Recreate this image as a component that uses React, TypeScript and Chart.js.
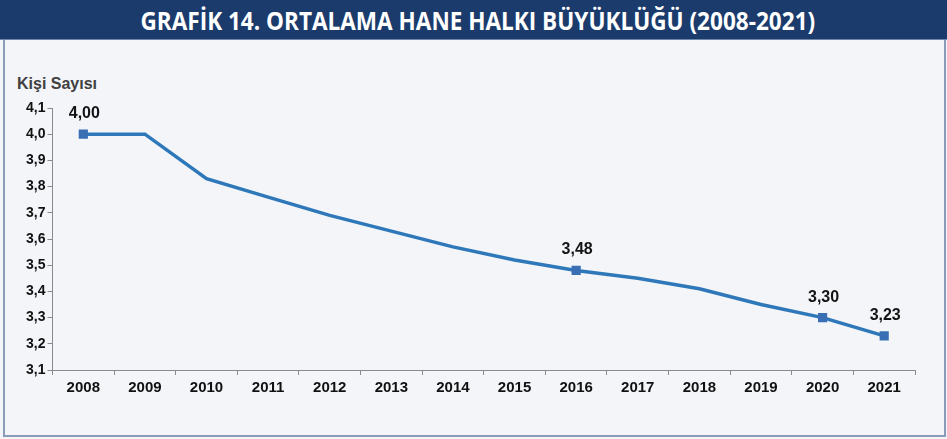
import React, { useEffect, useLayoutEffect, useRef } from "react";
import { Chart, registerables } from "chart.js";

Chart.register(...registerables);

const years = ["2008", "2009", "2010", "2011", "2012", "2013", "2014", "2015", "2016", "2017", "2018", "2019", "2020", "2021"];
const householdSize = [4.0, 4.0, 3.83, 3.76, 3.69, 3.63, 3.57, 3.52, 3.48, 3.45, 3.41, 3.35, 3.3, 3.23];
const labeledYears = ["2008", "2016", "2020", "2021"];
const yMin = 3.1;
const yMax = 4.1;
const yStep = 0.1;
const titleText = "GRAFİK 14. ORTALAMA HANE HALKI BÜYÜKLÜĞÜ (2008-2021)";
const yAxisTitle = "Kişi Sayısı";

const fmt = (v: number, d: number) => v.toFixed(d).replace(".", ",");

const FONT = "'Liberation Sans', Arial, sans-serif";

const valueLabels = {
  id: "valueLabels",
  afterDatasetsDraw(chart: any) {
    const ctx = chart.ctx;
    const meta = chart.getDatasetMeta(0);
    ctx.save();
    ctx.font = `bold 16px ${FONT}`;
    ctx.fillStyle = "#141414";
    ctx.textAlign = "center";
    ctx.textBaseline = "alphabetic";
    meta.data.forEach((pt: any, i: number) => {
      if (!labeledYears.includes(years[i])) return;
      ctx.fillText(fmt(householdSize[i], 2), pt.x + 1, pt.y - 16);
    });
    ctx.restore();
  },
};

export default function App() {
  const canvasRef = useRef<HTMLCanvasElement>(null);
  const titleRef = useRef<HTMLSpanElement>(null);

  useLayoutEffect(() => {
    document.body.style.margin = "0";
    const s = titleRef.current;
    if (s) {
      const w = s.offsetWidth;
      if (w > 0) s.style.transform = `scaleX(${675 / w})`;
    }
  }, []);

  useEffect(() => {
    if (!canvasRef.current) return;
    const chart = new Chart(canvasRef.current, {
      type: "line",
      data: {
        labels: years,
        datasets: [
          {
            data: householdSize,
            borderColor: "rgb(46,120,186)",
            borderWidth: 3.5,
            fill: false,
            tension: 0,
            pointStyle: "rect",
            pointRadius: (c: any) => (labeledYears.includes(years[c.dataIndex]) ? 6.5 : 0),
            pointHoverRadius: 0,
            pointBackgroundColor: "#3a6fb4",
            pointBorderColor: "#3a6fb4",
            pointBorderWidth: 0,
          },
        ],
      },
      options: {
        responsive: false,
        animation: false,
        events: [],
        layout: { padding: { top: 108, right: 32, bottom: 0, left: 0 } },
        plugins: {
          legend: { display: false },
          tooltip: { enabled: false },
          title: { display: false },
        },
        scales: {
          x: {
            type: "category",
            offset: true,
            grid: {
              display: true,
              drawOnChartArea: false,
              offset: true,
              tickLength: 5,
              color: "#8a8a8a",
            },
            border: { display: true, color: "#8a8a8a", width: 1 },
            ticks: {
              color: "#111111",
              font: { family: FONT, size: 15, weight: "bold" },
              padding: 4,
              maxRotation: 0,
              autoSkip: false,
            },
            afterFit: (scale: any) => {
              scale.height = 69;
            },
          },
          y: {
            min: yMin,
            max: yMax,
            grid: {
              display: true,
              drawOnChartArea: false,
              tickLength: 5,
              color: "#8a8a8a",
            },
            border: { display: true, color: "#8a8a8a", width: 1 },
            ticks: {
              stepSize: yStep,
              color: "#111111",
              font: { family: FONT, size: 14, weight: "bold" },
              padding: 2,
              callback: (v: any) => fmt(Number(v), 1),
            },
            afterFit: (scale: any) => {
              scale.width = 52.5;
            },
          },
        },
      },
      plugins: [valueLabels],
    } as any);
    return () => chart.destroy();
  }, []);

  return (
    <div
      style={{
        position: "fixed",
        left: 0,
        top: 0,
        width: 947,
        height: 439,
        background: "#f3f5f9",
        overflow: "hidden",
      }}
    >
      <div
        style={{
          position: "absolute",
          left: 3,
          top: 40,
          width: 939,
          height: 395,
          borderLeft: "2px solid #8a9bb9",
          borderRight: "2px solid #8a9bb9",
          borderBottom: "2px solid #8a9bb9",
        }}
      />
      <div
        style={{
          position: "absolute",
          left: 0,
          top: 0,
          width: 947,
          height: 40,
          background: "#1b3b6c",
          borderBottom: "1px solid #6f86ab",
          boxSizing: "border-box",
          textAlign: "center",
          lineHeight: "40px",
          whiteSpace: "nowrap",
        }}
      >
        <span
          ref={titleRef}
          style={{
            display: "inline-block",
            color: "#ffffff",
            fontFamily: "'Open Sans', sans-serif",
            fontWeight: 700,
            fontSize: 25,
            transformOrigin: "center",
            marginLeft: 8,
          }}
        >
          {titleText}
        </span>
      </div>
      <div
        style={{
          position: "absolute",
          left: 17,
          top: 75,
          fontFamily: FONT,
          fontWeight: 700,
          fontSize: 16,
          color: "#404040",
          lineHeight: "18px",
          whiteSpace: "nowrap",
        }}
      >
        {yAxisTitle}
      </div>
      <canvas
        ref={canvasRef}
        width={947}
        height={439}
        style={{ position: "absolute", left: 0, top: 0, width: 947, height: 439 }}
      />
    </div>
  );
}
